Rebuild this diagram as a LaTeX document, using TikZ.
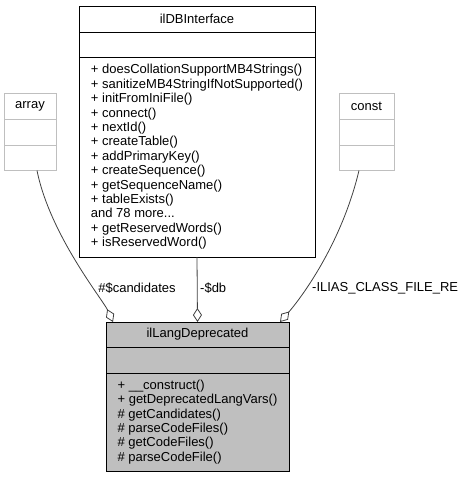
\documentclass[tikz,border=0pt]{standalone}
\usepackage{fontspec}
\setmainfont{Liberation Sans}
\usetikzlibrary{positioning,arrows.meta}

\definecolor{edgegray}{HTML}{404040}
\definecolor{boxgray}{HTML}{BFBFBF}
\tikzstyle{umlpart} = [rectangle, draw=black, fill=white, line width=0.9pt, inner sep=0pt, outer sep=0pt, align=left, font=\fontsize{13}{14.4}\selectfont]
\tikzstyle{extpart} = [umlpart, draw=boxgray]
\tikzstyle{mainpart} = [umlpart, fill=boxgray]
\tikzstyle{aggr} = [draw=edgegray, line width=0.8pt, {Diamond[open, length=14pt, width=9pt]}-]
\tikzstyle{lbl} = [inner sep=0pt, font=\fontsize{13}{14.4}\selectfont]

\begin{document}
\begin{tikzpicture}[x=1pt, y=-1pt]
	\useasboundingbox (0,0) rectangle (468,477);

	\node (dbititle) [umlpart, anchor=north west, minimum width=236pt, minimum height=26pt] at (79,6) {ilDBInterface};
	\node (dbiattr) [umlpart, below=0pt of dbititle, minimum width=236pt, minimum height=25pt] {};
	\node (dbimeth) [umlpart, below=0pt of dbiattr, minimum width=236pt, minimum height=200pt] {+ doesCollationSupportMB4Strings()\\+ sanitizeMB4StringIfNotSupported()\\+ initFromIniFile()\\+ connect()\\+ nextId()\\+ createTable()\\+ addPrimaryKey()\\+ createSequence()\\+ getSequenceName()\\+ tableExists()\\and 78 more...\\+ getReservedWords()\\+ isReservedWord()};

	\node (arraytitle) [extpart, anchor=north west, minimum width=52pt, minimum height=26pt] at (4,93.5) {array};
	\node (arrayattr) [extpart, below=0pt of arraytitle, minimum width=52pt, minimum height=26pt] {};
	\node (arraymeth) [extpart, below=0pt of arrayattr, minimum width=52pt, minimum height=25pt] {};

	\node (consttitle) [extpart, anchor=north west, minimum width=55pt, minimum height=26pt] at (339,93.5) {const};
	\node (constattr) [extpart, below=0pt of consttitle, minimum width=55pt, minimum height=26pt] {};
	\node (constmeth) [extpart, below=0pt of constattr, minimum width=55pt, minimum height=25pt] {};

	\node (langtitle) [mainpart, anchor=north west, minimum width=183pt, minimum height=25pt] at (106,322) {ilLangDeprecated};
	\node (langattr) [mainpart, below=0pt of langtitle, minimum width=183pt, minimum height=26pt] {};
	\node (langmeth) [mainpart, below=0pt of langattr, minimum width=183pt, minimum height=98pt] {+ \_\_construct()\\+ getDeprecatedLangVars()\\\# getCandidates()\\\# parseCodeFiles()\\\# getCodeFiles()\\\# parseCodeFile()};

	\draw [aggr] ([xshift=7pt]langtitle.north west) .. controls (103,300) and (50,235) .. ([xshift=7pt]arraymeth.south);
	\draw [aggr] (langtitle.north) -- (dbimeth.south);
	\draw [aggr] ([xshift=-9pt]langtitle.north east) .. controls (295,305) and (340,250) .. ([xshift=-7.5pt]constmeth.south);

	\node (lblcand) [lbl] at (137,288) {\#\$candidates};
	\node (lbldb) [lbl, anchor=west] at (200,288) {-\$db};
	\node (lblconst) [lbl, anchor=west] at (312,288) {-ILIAS\_CLASS\_FILE\_RE};
\end{tikzpicture}
\end{document}
